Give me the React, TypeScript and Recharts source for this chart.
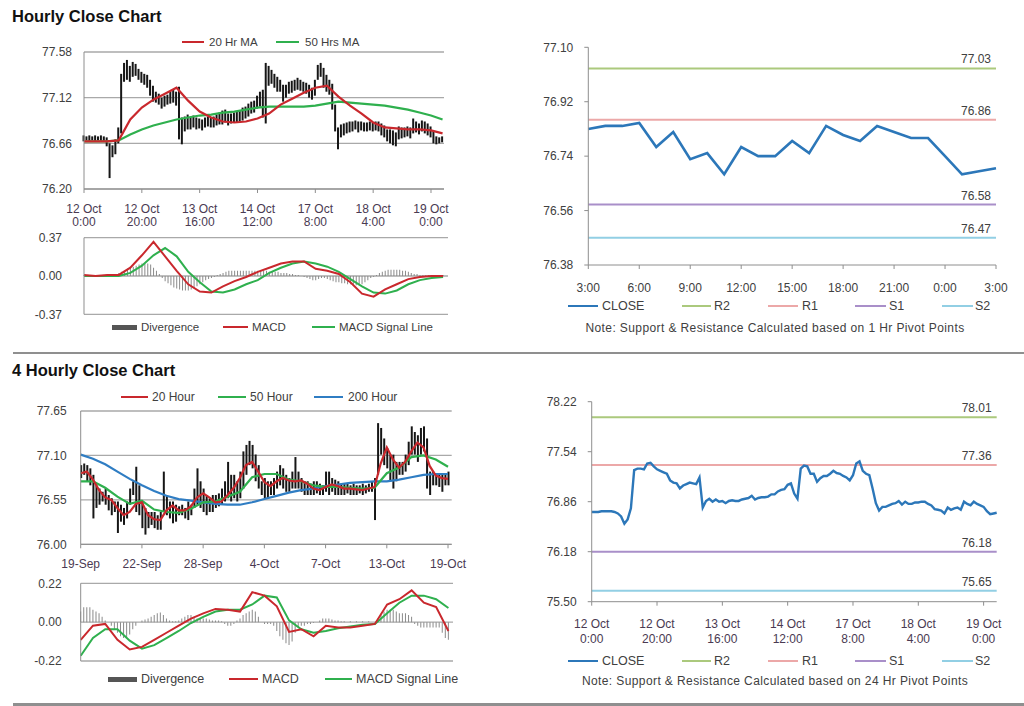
import React from "react";
import { ComposedChart, LineChart, Bar, Line, XAxis, YAxis, CartesianGrid, ReferenceLine } from "recharts";

// ---------- Hourly (12 Oct 0:00 -> 19 Oct ~4:00), one value per hour ----------
const hrHigh = [
  76.74, 76.73, 76.74, 76.73, 76.74, 76.73, 76.74, 76.73, 76.72, 76.66,
  76.64, 76.70, 76.82, 77.36, 77.47, 77.50, 77.44, 77.48, 77.46, 77.41,
  77.38, 77.36, 77.35, 77.30, 77.24, 77.18, 77.16, 77.12, 77.14, 77.15,
  77.18, 77.20, 77.18, 77.23, 76.92, 76.93, 76.95, 76.92, 76.94, 76.92,
  76.91, 76.90, 76.92, 76.93, 76.92, 76.93, 76.95, 76.97, 76.99, 77.00,
  76.96, 76.96, 76.97, 76.98, 76.99, 77.02, 77.03, 77.06, 77.08, 77.09,
  77.14, 77.18, 77.20, 77.47, 77.44, 77.40, 77.36, 77.33, 77.30, 77.25,
  77.25, 77.28, 77.29, 77.30, 77.32, 77.30, 77.28, 77.27, 77.25, 77.22,
  77.30, 77.45, 77.47, 77.42, 77.35, 77.30, 77.26, 77.05, 76.82, 76.85,
  76.86, 76.87, 76.88, 76.88, 76.89, 76.88, 76.88, 76.87, 76.87, 76.88,
  76.87, 76.88, 76.88, 76.86, 76.84, 76.80, 76.80, 76.79, 76.77, 76.83,
  76.82, 76.82, 76.83, 76.82, 76.91, 76.88, 76.86, 76.89, 76.88, 76.86,
  76.83, 76.78, 76.73, 76.72, 76.73,
];
const hrLow = [
  76.68, 76.69, 76.68, 76.69, 76.68, 76.69, 76.68, 76.68, 76.63, 76.31,
  76.52, 76.55, 76.66, 76.76, 77.28, 77.30, 77.28, 77.33, 77.34, 77.30,
  77.27, 77.25, 77.22, 77.14, 77.08, 77.07, 77.05, 77.01, 77.03, 77.05,
  77.06, 77.07, 77.04, 76.70, 76.65, 76.78, 76.80, 76.80, 76.82, 76.80,
  76.81, 76.79, 76.82, 76.83, 76.82, 76.82, 76.84, 76.85, 76.85, 76.87,
  76.84, 76.86, 76.87, 76.87, 76.88, 76.89, 76.91, 76.93, 76.96, 76.97,
  77.01, 77.03, 76.92, 76.86, 77.24, 77.26, 77.22, 77.18, 77.18, 77.08,
  77.12, 77.16, 77.17, 77.19, 77.20, 77.19, 77.18, 77.16, 77.12, 77.10,
  77.14, 77.30, 77.33, 77.22, 77.18, 77.15, 77.00, 76.78, 76.60, 76.72,
  76.74, 76.76, 76.77, 76.78, 76.80, 76.77, 76.79, 76.78, 76.78, 76.79,
  76.78, 76.79, 76.78, 76.74, 76.72, 76.68, 76.66, 76.64, 76.63, 76.70,
  76.71, 76.72, 76.73, 76.71, 76.76, 76.77, 76.75, 76.78, 76.76, 76.74,
  76.72, 76.66, 76.65, 76.66, 76.67,
];
const hrClose = [
  76.72, 76.72, 76.72, 76.73, 76.73, 76.73, 76.73, 76.72, 76.70, 76.66,
  76.56, 76.62, 76.77, 77.29, 77.31, 77.31, 77.30, 77.38, 77.39, 77.34,
  77.30, 77.28, 77.26, 77.24, 77.15, 77.12, 77.11, 77.04, 77.08, 77.10,
  77.12, 77.11, 77.10, 77.19, 76.78, 76.87, 76.90, 76.86, 76.89, 76.86,
  76.87, 76.84, 76.87, 76.88, 76.87, 76.87, 76.89, 76.90, 76.91, 76.94,
  76.89, 76.91, 76.92, 76.92, 76.93, 76.96, 76.96, 77.00, 77.02, 77.03,
  77.09, 77.11, 76.97, 76.90, 77.31, 77.35, 77.34, 77.24, 77.24, 77.13,
  77.18, 77.21, 77.21, 77.24, 77.28, 77.25, 77.24, 77.21, 77.19, 77.15,
  77.22, 77.38, 77.41, 77.28, 77.24, 77.22, 77.04, 76.84, 76.74, 76.79,
  76.79, 76.81, 76.83, 76.84, 76.87, 76.82, 76.86, 76.83, 76.83, 76.85,
  76.85, 76.86, 76.86, 76.83, 76.81, 76.76, 76.75, 76.74, 76.70, 76.78,
  76.75, 76.77, 76.78, 76.75, 76.86, 76.83, 76.81, 76.86, 76.83, 76.81,
  76.79, 76.73, 76.69, 76.70, 76.71,
];
const hrDiv = [
  0.01, 0.01, 0.0, 0.0, 0.01, 0.0, 0.0, 0.01, 0.01, 0.0,
  0.01, 0.02, 0.03, 0.04, 0.05, 0.07, 0.08, 0.09, 0.10, 0.11,
  0.12, 0.12, 0.12, 0.11, 0.08, 0.05, 0.02, -0.02, -0.05, -0.07,
  -0.09, -0.11, -0.12, -0.13, -0.14, -0.14, -0.14, -0.13, -0.12, -0.10,
  -0.08, -0.06, -0.04, -0.03, -0.02, -0.01, 0.01, 0.02, 0.03, 0.04,
  0.05, 0.05, 0.05, 0.05, 0.05, 0.05, 0.05, 0.05, 0.05, 0.05,
  0.05, 0.05, 0.05, 0.05, 0.04, 0.04, 0.04, 0.04, 0.03, 0.03,
  0.03, 0.02, 0.02, 0.01, 0.01, 0.0, -0.01, -0.02, -0.03, -0.04,
  -0.04, -0.03, -0.02, -0.02, -0.03, -0.04, -0.05, -0.06, -0.06, -0.07,
  -0.07, -0.08, -0.08, -0.08, -0.09, -0.09, -0.08, -0.06, -0.04, -0.02,
  -0.01, 0.01, 0.03, 0.04, 0.05, 0.06, 0.06, 0.06, 0.06, 0.06,
  0.05, 0.05, 0.04, 0.03, 0.02, 0.02, 0.01, 0.01, 0.01, 0.01,
  0.01, 0.01, 0.01, 0.01, 0.01,
];
// every 4th hour
const HR_STEP = 4;
const hrMa20 = [76.68, 76.68, 76.68, 76.69, 76.90, 77.02, 77.10, 77.16, 77.22, 77.09, 76.98, 76.92, 76.88, 76.87, 76.88, 76.91, 76.96, 77.05, 77.11, 77.17, 77.22, 77.24, 77.13, 77.04, 76.96, 76.87, 76.82, 76.81, 76.80, 76.80, 76.79, 76.76];
const hrMa50 = [76.68, 76.68, 76.68, 76.69, 76.75, 76.80, 76.84, 76.87, 76.90, 76.92, 76.94, 76.95, 76.97, 76.98, 77.00, 77.02, 77.03, 77.03, 77.03, 77.03, 77.04, 77.06, 77.08, 77.07, 77.06, 77.05, 77.04, 77.02, 77.00, 76.97, 76.94, 76.90];
const hrMacd = [0.01, 0.0, 0.01, 0.01, 0.08, 0.20, 0.33, 0.19, 0.05, -0.08, -0.15, -0.16, -0.10, -0.05, -0.01, 0.04, 0.08, 0.12, 0.14, 0.14, 0.07, 0.05, 0.02, -0.06, -0.17, -0.20, -0.13, -0.08, -0.03, -0.01, 0.0, 0.0];
const hrSignal = [0.0, 0.0, 0.0, 0.0, 0.03, 0.10, 0.20, 0.27, 0.19, 0.04, -0.06, -0.15, -0.16, -0.13, -0.08, -0.04, 0.03, 0.08, 0.12, 0.14, 0.12, 0.09, 0.04, -0.03, -0.10, -0.16, -0.17, -0.14, -0.08, -0.04, -0.02, -0.01];

const hrPriceTicks = [76.2, 76.66, 77.12, 77.58];
const hrMacdTicks = [-0.37, 0, 0.37];
const hrXTicks = [0, 20, 40, 60, 80, 100, 120];
const hrTickLabels = [
  ["12 Oct", "0:00"], ["12 Oct", "20:00"], ["13 Oct", "16:00"], ["14 Oct", "12:00"],
  ["17 Oct", "8:00"], ["18 Oct", "4:00"], ["19 Oct", "0:00"],
];

// ---------- Last 24 hours close with 1 Hr pivots ----------
const dayClose = [76.83, 76.84, 76.84, 76.85, 76.77, 76.82, 76.73, 76.75, 76.68, 76.77, 76.74, 76.74, 76.79, 76.75, 76.84, 76.81, 76.79, 76.84, 76.82, 76.80, 76.80, 76.74, 76.68, 76.69, 76.70];
const dayTicks = [76.38, 76.56, 76.74, 76.92, 77.1];
const dayXTicks = [0, 3, 6, 9, 12, 15, 18, 21, 24];
const dayTickLabels = ["3:00", "6:00", "9:00", "12:00", "15:00", "18:00", "21:00", "0:00", "3:00"];
const pivotNames = ["R2", "R1", "S1", "S2"];
const hrPivots = [77.03, 76.86, 76.58, 76.47];

// ---------- 4 Hourly (19 Sep -> 19 Oct) ----------
const h4High = [
  76.98, 77.00, 76.98, 76.94, 76.86, 76.73, 76.69, 76.65, 76.69, 76.61,
  76.57, 76.53, 76.53, 76.49, 76.45, 76.53, 76.69, 76.78, 76.96, 76.73,
  76.53, 76.45, 76.40, 76.40, 76.40, 76.36, 76.40, 76.90, 76.61, 76.53,
  76.53, 76.49, 76.47, 76.49, 76.45, 76.53, 76.49, 76.69, 76.94, 76.78,
  76.69, 76.61, 76.57, 76.61, 76.61, 76.63, 76.69, 76.78, 77.02, 76.86,
  76.86, 76.78, 76.90, 77.15, 77.23, 77.28, 77.23, 77.11, 76.98, 76.78,
  76.82, 76.78, 76.78, 76.82, 76.90, 76.98, 76.94, 76.86, 76.82, 76.90,
  77.08, 76.90, 76.82, 76.78, 76.78, 76.75, 76.78, 76.78, 76.75, 76.73,
  76.90, 76.90, 76.82, 76.80, 76.78, 76.75, 76.75, 76.75, 76.73, 76.75,
  76.73, 76.73, 76.75, 76.73, 76.75, 76.78, 76.82, 77.50, 77.44, 77.31,
  77.19, 77.11, 77.11, 77.02, 77.02, 77.02, 77.11, 77.27, 77.46, 77.39,
  77.35, 77.44, 77.46, 77.31, 76.90, 76.90, 76.86, 76.86, 76.86, 76.86,
  76.90,
];
const h4Low = [
  76.82, 76.86, 76.78, 76.73, 76.32, 76.45, 76.49, 76.53, 76.49, 76.42,
  76.36, 76.40, 76.14, 76.28, 76.24, 76.32, 76.49, 76.61, 76.40, 76.36,
  76.20, 76.12, 76.20, 76.24, 76.20, 76.18, 76.18, 76.40, 76.36, 76.32,
  76.26, 76.28, 76.36, 76.36, 76.32, 76.30, 76.36, 76.45, 76.49, 76.45,
  76.40, 76.36, 76.40, 76.40, 76.45, 76.47, 76.49, 76.53, 76.57, 76.53,
  76.57, 76.53, 76.57, 76.69, 76.86, 76.98, 76.94, 76.78, 76.69, 76.61,
  76.57, 76.57, 76.61, 76.61, 76.69, 76.73, 76.69, 76.65, 76.65, 76.69,
  76.69, 76.69, 76.65, 76.61, 76.61, 76.61, 76.61, 76.63, 76.61, 76.61,
  76.65, 76.61, 76.65, 76.61, 76.61, 76.61, 76.61, 76.63, 76.61, 76.61,
  76.61, 76.63, 76.61, 76.63, 76.65, 76.65, 76.30, 76.86, 77.11, 76.98,
  76.94, 76.78, 76.69, 76.78, 76.86, 76.86, 76.90, 76.98, 77.11, 77.11,
  77.02, 77.11, 77.15, 76.69, 76.61, 76.73, 76.73, 76.71, 76.65, 76.73,
  76.73,
];
const h4Div = [
  0.06, 0.085, 0.085, 0.085, 0.07, 0.06, 0.05, 0.03, 0.01, 0.0,
  -0.02, -0.04, -0.06, -0.08, -0.09, -0.09, -0.07, -0.04, -0.02, 0.0,
  0.01, 0.015, 0.02, 0.03, 0.04, 0.05, 0.055, 0.04, 0.02, 0.01,
  0.005, 0.005, 0.01, 0.02, 0.03, 0.04, 0.04, 0.03, 0.02, 0.02,
  0.02, 0.02, 0.015, 0.01, 0.01, 0.01, 0.005, -0.01, -0.02, -0.02,
  -0.01, 0.01, 0.02, 0.04, 0.05, 0.06, 0.07, 0.06, 0.03, 0.0,
  -0.01, -0.01, -0.01, -0.02, -0.05, -0.08, -0.10, -0.12, -0.13, -0.11,
  -0.06, -0.03, -0.02, -0.02, -0.01, -0.01, -0.005, 0.0, 0.01, 0.02,
  0.02, 0.02, 0.015, 0.01, 0.01, 0.005, 0.005, 0.0, 0.005, 0.0,
  0.005, 0.0, 0.005, 0.0, 0.005, 0.0, 0.0, 0.02, 0.04, 0.06,
  0.07, 0.07, 0.07, 0.06, 0.05, 0.05, 0.05, 0.04, 0.03, -0.01,
  -0.02, -0.03, -0.03, -0.03, -0.03, -0.03, -0.03, -0.03, -0.06, -0.09,
  -0.10,
];
// 20 Hour MA every 2nd bar, the rest every 4th bar
const H4_STEP_FAST = 2;
const H4_STEP = 4;
const h4Ma20 = [
  76.88, 76.90, 76.80, 76.67, 76.58, 76.55, 76.45, 76.36, 76.40, 76.50,
  76.52, 76.36, 76.31, 76.30, 76.42, 76.48, 76.42, 76.42, 76.47, 76.58,
  76.63, 76.58, 76.52, 76.53, 76.61, 76.70, 76.82, 76.98, 77.02, 76.90,
  76.77, 76.72, 76.78, 76.82, 76.79, 76.78, 76.79, 76.75, 76.69, 76.67,
  76.71, 76.74, 76.72, 76.69, 76.69, 76.68, 76.67, 76.69, 76.71, 77.00,
  77.20, 77.05, 76.95, 77.02, 77.15, 77.26, 77.20, 76.97, 76.85, 76.82,
  76.81,
];
const h4Ma50 = [76.78, 76.78, 76.70, 76.59, 76.50, 76.54, 76.43, 76.40, 76.39, 76.44, 76.52, 76.53, 76.59, 76.65, 76.83, 76.87, 76.87, 76.80, 76.78, 76.73, 76.71, 76.71, 76.70, 76.69, 76.70, 76.88, 76.95, 77.08, 77.10, 77.05, 76.96];
const h4Ma200 = [77.11, 77.06, 76.99, 76.90, 76.81, 76.73, 76.66, 76.60, 76.56, 76.54, 76.52, 76.50, 76.49, 76.49, 76.52, 76.56, 76.60, 76.64, 76.67, 76.69, 76.72, 76.74, 76.76, 76.77, 76.78, 76.78, 76.80, 76.83, 76.86, 76.87, 76.87];
const h4Macd = [-0.10, -0.02, -0.01, -0.10, -0.155, -0.14, -0.10, -0.06, -0.02, 0.02, 0.05, 0.075, 0.07, 0.06, 0.17, 0.15, 0.09, -0.055, -0.04, -0.08, -0.02, -0.03, -0.03, -0.02, -0.01, 0.10, 0.13, 0.18, 0.11, 0.085, -0.05];
const h4Signal = [-0.19, -0.09, -0.04, -0.04, -0.105, -0.15, -0.13, -0.09, -0.05, -0.005, 0.03, 0.06, 0.07, 0.07, 0.10, 0.15, 0.14, 0.01, -0.04, -0.06, -0.05, -0.035, -0.025, -0.015, -0.01, 0.05, 0.11, 0.15, 0.15, 0.13, 0.08];

const h4PriceTicks = [76.0, 76.55, 77.1, 77.65];
const h4MacdTicks = [-0.22, 0, 0.22];
const h4XTicks = [0, 20, 40, 60, 80, 100, 120];
const h4TickLabels = ["19-Sep", "22-Sep", "28-Sep", "4-Oct", "7-Oct", "13-Oct", "19-Oct"];

// ---------- week close with 24 Hr pivots (same hourly closes) ----------
const weekTicks = [75.5, 76.18, 76.86, 77.54, 78.22];
const dayPivots = [78.01, 77.36, 76.18, 75.65];

// ---------- rows for the charts ----------
const pick = (arr: number[], i: number, step: number) => (i % step === 0 ? arr[i / step] ?? null : null);

const hourRows = hrHigh.map((hi, h) => ({
  h,
  hl: [hrLow[h], hi],
  div: hrDiv[h],
  ma20: pick(hrMa20, h, HR_STEP),
  ma50: pick(hrMa50, h, HR_STEP),
  macd: pick(hrMacd, h, HR_STEP),
  signal: pick(hrSignal, h, HR_STEP),
}));
const closeRows = hrClose.map((close, h) => ({ h, close }));
const dayRows = dayClose.map((close, t) => ({ t, close }));
const h4Rows = h4High.map((hi, i) => ({
  i,
  hl: [h4Low[i], hi],
  div: h4Div[i],
  ma20: pick(h4Ma20, i, H4_STEP_FAST),
  ma50: pick(h4Ma50, i, H4_STEP),
  ma200: pick(h4Ma200, i, H4_STEP),
  macd: pick(h4Macd, i, H4_STEP),
  signal: pick(h4Signal, i, H4_STEP),
}));

// ---------- styles ----------
const FONT = '"Liberation Sans", Arial, Helvetica, sans-serif';
const AXIS = "#8e8e8e";
const GRID = "#a9a9a9";
const TEXT = "#404040";
const XTEXT = "#4a3a52";
const RED = "#c9282d";
const GREEN = "#2fb04e";
const BLUE = "#2f7dc3";
const CLOSE_BLUE = "#2c77b9";
const BAR = "#161616";
const DIV_GRAY = "#8a8a8a";
const PIVOT_COLORS = ["#abc97d", "#eca8a8", "#a98fc9", "#92cfe4"];

const yTick = (p: any) => (
  <text x={p.x} y={p.y} dy={4.3} textAnchor="end" fontSize={12} fill={TEXT} fontFamily={FONT}>
    {Number(p.payload.value).toFixed(2)}
  </text>
);

const xTick = (labels: string[][], step: number, d1: number, d2: number, color: string) => (p: any) => {
  const lab = labels[Math.round(p.payload.value / step)];
  if (!lab) return <g />;
  return (
    <g>
      <text x={p.x} y={p.y + d1} textAnchor="middle" fontSize={12} fill={color} fontFamily={FONT}>
        {lab[0]}
      </text>
      {lab[1] ? (
        <text x={p.x} y={p.y + d2} textAnchor="middle" fontSize={12} fill={color} fontFamily={FONT}>
          {lab[1]}
        </text>
      ) : null}
    </g>
  );
};

type LegendItem = { label: string; color: string; x1: number; x2: number; tx: number; thick?: number };

const LegendRow = ({ y, items, size }: { y: number; items: LegendItem[]; size: number }) => (
  <>
    {items.map((it) => {
      const th = it.thick ?? 2;
      return (
        <React.Fragment key={it.label}>
          <div style={{ position: "absolute", left: it.x1, top: y - th / 2, width: it.x2 - it.x1, height: th, background: it.color }} />
          <div style={{ position: "absolute", left: it.tx, top: y - size * 0.49, fontSize: size, lineHeight: `${size}px`, color: TEXT, whiteSpace: "nowrap" }}>
            {it.label}
          </div>
        </React.Fragment>
      );
    })}
  </>
);

const pivotLegend: LegendItem[] = [
  { label: "CLOSE", color: CLOSE_BLUE, x1: 568, x2: 598, tx: 602, thick: 2.5 },
  { label: pivotNames[0], color: PIVOT_COLORS[0], x1: 682, x2: 711, tx: 714 },
  { label: pivotNames[1], color: PIVOT_COLORS[1], x1: 768, x2: 798, tx: 802 },
  { label: pivotNames[2], color: PIVOT_COLORS[2], x1: 855, x2: 886, tx: 889 },
  { label: pivotNames[3], color: PIVOT_COLORS[3], x1: 942, x2: 973, tx: 975 },
];

const Title = ({ top, text }: { top: number; text: string }) => (
  <div style={{ position: "absolute", left: 12, top, fontSize: 16.5, lineHeight: "17px", fontWeight: 700, color: "#111" }}>{text}</div>
);

const Note = ({ top, text }: { top: number; text: string }) => (
  <div style={{ position: "absolute", left: 575, width: 400, top: top - 6, fontSize: 12, lineHeight: "12px", letterSpacing: 0.4, color: TEXT, textAlign: "center", whiteSpace: "nowrap" }}>
    {text}
  </div>
);

const pivotLines = (vals: number[]) =>
  vals.map((v, k) => (
    <ReferenceLine
      key={pivotNames[k]}
      y={v}
      stroke={PIVOT_COLORS[k]}
      strokeWidth={2}
      label={{ value: v.toFixed(2), position: "insideBottomRight", offset: 5, fill: TEXT, fontSize: 12, fontFamily: FONT }}
    />
  ));

export default function App() {
  return (
    <div style={{ position: "absolute", left: 0, top: 0, width: 1024, height: 706, background: "#fff", fontFamily: FONT, overflow: "hidden" }}>
      <Title top={8} text="Hourly Close Chart" />
      <Title top={362} text="4 Hourly Close Chart" />
      <div style={{ position: "absolute", left: 13, right: 0, top: 351.5, height: 2, background: "#8f8f8f" }} />
      <div style={{ position: "absolute", left: 13, right: 0, top: 703, height: 2.5, background: "#8f8f8f" }} />

      {/* Hourly price with moving averages */}
      <LegendRow
        y={42.3}
        size={11.5}
        items={[
          { label: "20 Hr MA", color: RED, x1: 182, x2: 204, tx: 209 },
          { label: "50 Hrs MA", color: GREEN, x1: 276, x2: 299, tx: 305 },
        ]}
      />
      <div style={{ position: "absolute", left: 0, top: 40 }}>
        <ComposedChart width={460} height={189} data={hourRows} margin={{ top: 12, right: 16, bottom: 0, left: 0 }}>
          <CartesianGrid vertical={false} stroke={GRID} strokeWidth={1.3} />
          <XAxis type="number" dataKey="h" domain={[0, 124.5]} ticks={hrXTicks} interval={0} height={40} stroke={AXIS} tickSize={4} tickMargin={0} tick={xTick(hrTickLabels, 20, 19.6, 33, XTEXT)} />
          <YAxis type="number" domain={[76.2, 77.58]} ticks={hrPriceTicks} interval={0} width={84} stroke={AXIS} tickLine={false} tickSize={0} tickMargin={12} tick={yTick} />
          <Bar dataKey="hl" barSize={2} fill={BAR} isAnimationActive={false} />
          <Line dataKey="ma50" stroke={GREEN} strokeWidth={2.2} dot={false} activeDot={false} connectNulls isAnimationActive={false} />
          <Line dataKey="ma20" stroke={RED} strokeWidth={2.2} dot={false} activeDot={false} connectNulls isAnimationActive={false} />
        </ComposedChart>
      </div>

      {/* Hourly MACD */}
      <div style={{ position: "absolute", left: 0, top: 230 }}>
        <ComposedChart width={460} height={94.3} data={hourRows} margin={{ top: 7.7, right: 12, bottom: 10, left: 0 }}>
          <CartesianGrid vertical={false} stroke={GRID} strokeWidth={1.3} />
          <XAxis type="number" dataKey="h" domain={[0, 125.7]} hide />
          <YAxis type="number" domain={[-0.37, 0.37]} ticks={hrMacdTicks} interval={0} width={84} stroke={AXIS} tickLine={false} tickSize={0} tickMargin={22} tick={yTick} />
          <Bar dataKey="div" barSize={1} fill={DIV_GRAY} isAnimationActive={false} />
          <Line dataKey="signal" stroke={GREEN} strokeWidth={2} dot={false} activeDot={false} connectNulls isAnimationActive={false} />
          <Line dataKey="macd" stroke={RED} strokeWidth={2} dot={false} activeDot={false} connectNulls isAnimationActive={false} />
        </ComposedChart>
      </div>
      <LegendRow
        y={327.3}
        size={11.5}
        items={[
          { label: "Divergence", color: "#555", x1: 112, x2: 137, tx: 141, thick: 4.5 },
          { label: "MACD", color: RED, x1: 223, x2: 248, tx: 252 },
          { label: "MACD Signal Line", color: GREEN, x1: 312, x2: 335, tx: 339 },
        ]}
      />

      {/* 1 Hr pivots */}
      <div style={{ position: "absolute", left: 520, top: 40 }}>
        <LineChart width={490} height={255} data={dayRows} margin={{ top: 7.3, right: 14, bottom: 0, left: 0 }}>
          <XAxis type="number" dataKey="t" domain={[0, 24]} ticks={dayXTicks} interval={0} height={30} stroke={AXIS} tickSize={4} tickMargin={0} tick={xTick(dayTickLabels.map((l) => [l]), 3, 22.6, 0, TEXT)} />
          <YAxis type="number" domain={[76.38, 77.1]} ticks={dayTicks} interval={0} width={68.3} stroke={AXIS} tickSize={4} tickMargin={11} tick={yTick} />
          {pivotLines(hrPivots)}
          <Line dataKey="close" stroke={CLOSE_BLUE} strokeWidth={2.6} dot={false} activeDot={false} isAnimationActive={false} />
        </LineChart>
      </div>
      <LegendRow y={306} size={12.5} items={pivotLegend} />
      <Note top={328.3} text="Note: Support & Resistance Calculated based on 1 Hr Pivot Points" />

      {/* 4 hourly price with moving averages */}
      <LegendRow
        y={397.3}
        size={12}
        items={[
          { label: "20 Hour", color: RED, x1: 121, x2: 148, tx: 152 },
          { label: "50 Hour", color: GREEN, x1: 218, x2: 246, tx: 250 },
          { label: "200 Hour", color: BLUE, x1: 314, x2: 343, tx: 348 },
        ]}
      />
      <div style={{ position: "absolute", left: 0, top: 400 }}>
        <ComposedChart width={470} height={174.3} data={h4Rows} margin={{ top: 11, right: 18.3, bottom: 0, left: 0 }}>
          <CartesianGrid vertical={false} stroke={GRID} strokeWidth={1.3} />
          <XAxis type="number" dataKey="i" domain={[0, 121.2]} ticks={h4XTicks} interval={0} height={30} stroke={AXIS} tickSize={4} tickMargin={0} tick={xTick(h4TickLabels.map((l) => [l]), 20, 19.3, 0, XTEXT)} />
          <YAxis type="number" domain={[76.0, 77.65]} ticks={h4PriceTicks} interval={0} width={80.7} stroke={AXIS} tickLine={false} tickSize={0} tickMargin={14} tick={yTick} />
          <Bar dataKey="hl" barSize={2} fill={BAR} isAnimationActive={false} />
          <Line dataKey="ma200" stroke={BLUE} strokeWidth={2.2} dot={false} activeDot={false} connectNulls isAnimationActive={false} />
          <Line dataKey="ma50" stroke={GREEN} strokeWidth={2.2} dot={false} activeDot={false} connectNulls isAnimationActive={false} />
          <Line dataKey="ma20" stroke={RED} strokeWidth={2.2} dot={false} activeDot={false} connectNulls isAnimationActive={false} />
        </ComposedChart>
      </div>

      {/* 4 hourly MACD */}
      <div style={{ position: "absolute", left: 0, top: 575 }}>
        <ComposedChart width={470} height={96} data={h4Rows} margin={{ top: 8.3, right: 17, bottom: 10, left: 0 }}>
          <CartesianGrid vertical={false} stroke={GRID} strokeWidth={1.3} />
          <XAxis type="number" dataKey="i" domain={[0, 121.5]} hide />
          <YAxis type="number" domain={[-0.22, 0.22]} ticks={h4MacdTicks} interval={0} width={80.7} stroke={AXIS} tickLine={false} tickSize={0} tickMargin={19} tick={yTick} />
          <Bar dataKey="div" barSize={1} fill={DIV_GRAY} isAnimationActive={false} />
          <Line dataKey="signal" stroke={GREEN} strokeWidth={2} dot={false} activeDot={false} connectNulls isAnimationActive={false} />
          <Line dataKey="macd" stroke={RED} strokeWidth={2} dot={false} activeDot={false} connectNulls isAnimationActive={false} />
        </ComposedChart>
      </div>
      <LegendRow
        y={679.3}
        size={12.5}
        items={[
          { label: "Divergence", color: "#555", x1: 108, x2: 137, tx: 141, thick: 4.5 },
          { label: "MACD", color: RED, x1: 229, x2: 258, tx: 262 },
          { label: "MACD Signal Line", color: GREEN, x1: 325, x2: 352, tx: 356 },
        ]}
      />

      {/* 24 Hr pivots over the hourly closes */}
      <div style={{ position: "absolute", left: 520, top: 395 }}>
        <LineChart width={490} height={251.7} data={closeRows} margin={{ top: 6.7, right: 13.3, bottom: 0, left: 0 }}>
          <XAxis type="number" dataKey="h" domain={[0, 124]} ticks={hrXTicks} interval={0} height={45} stroke={AXIS} tickSize={4} tickMargin={0} tick={xTick(hrTickLabels, 20, 21.9, 36.9, XTEXT)} />
          <YAxis type="number" domain={[75.5, 78.22]} ticks={weekTicks} interval={0} width={71.7} stroke={AXIS} tickSize={4} tickMargin={11} tick={yTick} />
          {pivotLines(dayPivots)}
          <Line dataKey="close" stroke={CLOSE_BLUE} strokeWidth={2.4} dot={false} activeDot={false} isAnimationActive={false} />
        </LineChart>
      </div>
      <LegendRow y={661} size={12.5} items={pivotLegend} />
      <Note top={681} text="Note: Support & Resistance Calculated based on 24 Hr Pivot Points" />
    </div>
  );
}
